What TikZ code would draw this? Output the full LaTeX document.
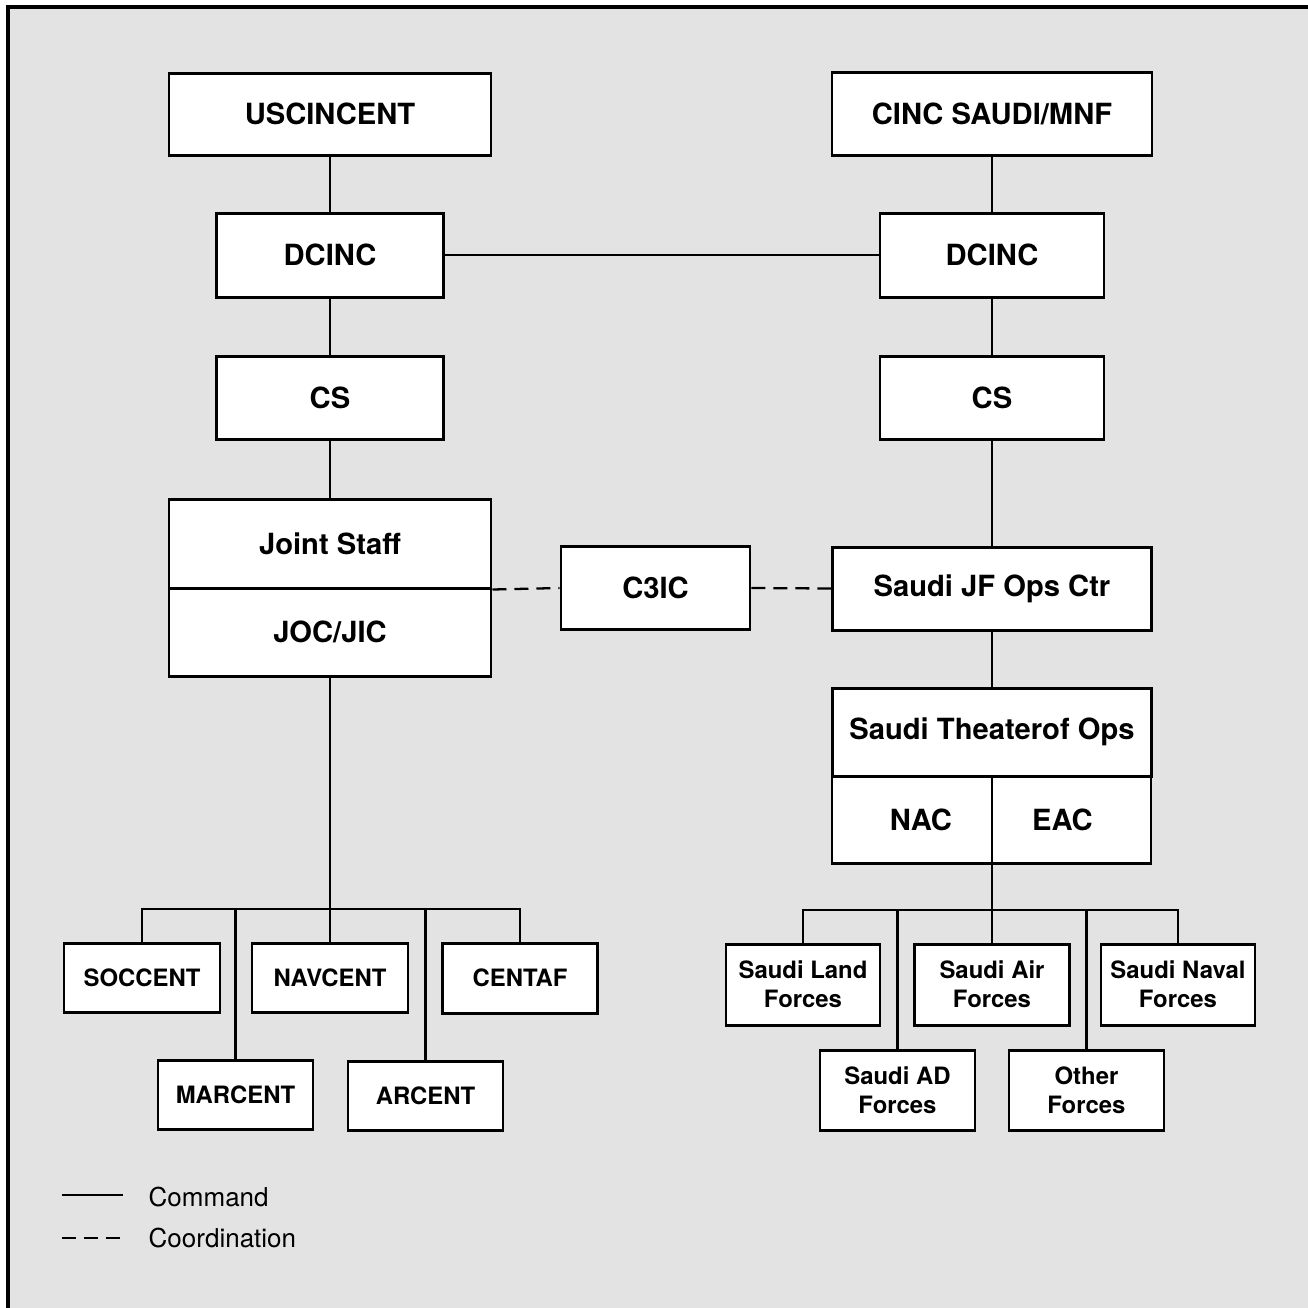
\documentclass[tikz,border=0pt]{standalone}
\usepackage{fontspec}
\setmainfont{TeX Gyre Heros}
\begin{document}
\begin{tikzpicture}[x=0.1mm,y=-0.1mm,
  box/.style={draw,line width=0.85pt,fill=white,inner sep=0pt,
    font=\bfseries\fontsize{8.3}{10}\selectfont},
  unit/.style={draw,line width=0.85pt,fill=white,inner sep=0pt,align=center,
    font=\bfseries\fontsize{6.8}{8.2}\selectfont},
  cmd/.style={line width=0.65pt},
  coord/.style={line width=0.65pt,dash pattern=on 1.4mm off 0.8mm},
  legend/.style={anchor=west,inner sep=0pt,font=\fontsize{7.4}{9}\selectfont}]
% frame and background
\useasboundingbox (0,0) rectangle (1308,1308);
\fill[black!11] (8,7) rectangle (1308,1308);
\path[draw,line width=0.9pt] (8,1308) -- (8,7) -- (1308,7);
% US side
\node[box,minimum width=32.2mm,minimum height=8.2mm] (uscincent) at (330,114) {USCINCENT};
\node[box,minimum width=22.7mm,minimum height=8.4mm] (dcincL) at (330,255) {DCINC};
\node[box,minimum width=22.7mm,minimum height=8.3mm] (csL) at (330,398) {CS};
\node[box,minimum width=32.2mm,minimum height=8.9mm] (joint) at (330,543.5) {Joint Staff};
\node[box,minimum width=32.2mm,minimum height=8.8mm] (jocjic) at (330,632) {JOC/JIC};
\node[box,minimum width=18.9mm,minimum height=8.3mm] (c3ic) at (655.5,588) {C3IC};
% Saudi side
\node[box,minimum width=32mm,minimum height=8.3mm] (cinc) at (992,113.5) {CINC SAUDI/MNF};
\node[box,minimum width=22.4mm,minimum height=8.4mm] (dcincR) at (992,255) {DCINC};
\node[box,minimum width=22.4mm,minimum height=8.3mm] (csR) at (992,398) {CS};
\node[box,minimum width=31.9mm,minimum height=8.3mm] (jfops) at (992,588.5) {Saudi JF Ops Ctr};
\node[box,minimum width=31.9mm,minimum height=8.8mm] (sto) at (992,732) {Saudi Theaterof Ops};
\node[box,minimum width=16mm,minimum height=8.7mm] (nac) at (912,819.5) {\hspace*{1.8mm}NAC};
\node[box,minimum width=15.9mm,minimum height=8.7mm] (eac) at (1071.5,819.5) {EAC\hspace*{1.8mm}};
% US components
\node[unit,minimum width=15.6mm,minimum height=6.9mm] (soccent) at (142,977.5) {SOCCENT};
\node[unit,minimum width=15.6mm,minimum height=6.9mm] (navcent) at (330,977.5) {NAVCENT};
\node[unit,minimum width=15.5mm,minimum height=7mm] (centaf) at (520,978) {CENTAF};
\node[unit,minimum width=15.5mm,minimum height=6.9mm] (marcent) at (235.5,1094.5) {MARCENT};
\node[unit,minimum width=15.5mm,minimum height=6.9mm] (arcent) at (425.5,1095.5) {ARCENT};
% Saudi components
\node[unit,minimum width=15.4mm,minimum height=8.1mm] (land) at (803,984.5) {Saudi Land\\Forces};
\node[unit,minimum width=15.5mm,minimum height=8.1mm] (air) at (992,984.5) {Saudi Air\\Forces};
\node[unit,minimum width=15.4mm,minimum height=8.1mm] (naval) at (1178,984.5) {Saudi Naval\\Forces};
\node[unit,minimum width=15.5mm,minimum height=8mm] (ad) at (897.5,1090) {Saudi AD\\Forces};
\node[unit,minimum width=15.5mm,minimum height=8mm] (other) at (1086.5,1090) {Other\\Forces};
\coordinate (lbus) at (330,909);
\coordinate (rbus) at (992,910);
% command lines
\path[draw,cmd] (uscincent) -- (dcincL);
\path[draw,cmd] (dcincL) -- (csL);
\path[draw,cmd] (csL) -- (joint);
\path[draw,cmd] (jocjic) -- (lbus);
\path[draw,cmd] (cinc) -- (dcincR);
\path[draw,cmd] (dcincR) -- (csR);
\path[draw,cmd] (csR) -- (jfops);
\path[draw,cmd] (jfops) -- (sto);
\path[draw,cmd] (rbus |- nac.south) -- (rbus);
\path[draw,cmd] (dcincL) -- (dcincR);
\foreach \n in {soccent,marcent,navcent,arcent,centaf}
  \path[draw,cmd] (\n.north) |- (lbus);
\foreach \n in {land,ad,air,other,naval}
  \path[draw,cmd] (\n.north) |- (rbus);
% coordination lines
\path[draw,coord] (joint.south east) -- (c3ic.west);
\path[draw,coord] (c3ic.east) -- (jfops.west);
% legend
\coordinate (la) at (62,1195);
\coordinate (lb) at (123,1195);
\coordinate (lc) at (62,1238);
\coordinate (ld) at (123,1238);
\path[draw,cmd] (la) -- (lb);
\path[draw,coord] (lc) -- (ld);
\node[legend] (lcmd) at (148,1197) {Command};
\node[legend] (lcoord) at (148,1238) {Coordination};
\end{tikzpicture}
\end{document}
